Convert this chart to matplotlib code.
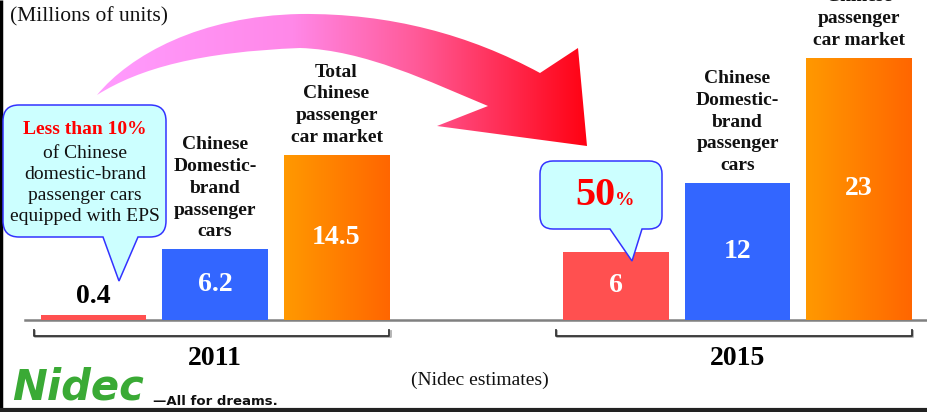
import numpy as np
import matplotlib
matplotlib.use("Agg")
import matplotlib.pyplot as plt
from matplotlib.path import Path
from matplotlib.patches import PathPatch
from matplotlib.colors import LinearSegmentedColormap

# data (millions of units)
years = ["2011", "2015"]
bar_labels = ["", "Chinese\nDomestic-\nbrand\npassenger\ncars",
              "Total\nChinese\npassenger\ncar market"]
values_2011 = [0.4, 6.2, 14.5]
values_2015 = [6, 12, 23]
value_text_2011 = ["0.4", "6.2", "14.5"]
value_text_2015 = ["6", "12", "23"]
eps_share_2011 = "Less than 10%"
eps_share_2015 = "50"

SERIF = "Liberation Serif"
W, H = 928, 412
px_per_unit = 11.4
bar_colors = ["#ff5050", "#3366ff", "#ff8000"]
orange_cmap = LinearSegmentedColormap.from_list("orange", ["#ff9900", "#ff6600"])

fig = plt.figure(figsize=(W / 100, H / 100), dpi=100)
fig.patch.set_facecolor("white")

# main axes: bars in data units
ax = fig.add_axes([0, 0, 1, 1])
ax.axis("off")
xlim = (-0.77, 6.868)
ylim = (-92 / px_per_unit, 320 / px_per_unit)

group_start = [0, 4.3]
width = 0.87
grad = np.linspace(0, 1, 256).reshape(1, -1)

ax.axhline(0, xmin=25 / W, xmax=1, color="#808080", lw=1.8, zorder=1)

for g, (year, vals, vtxt) in enumerate(zip(years, [values_2011, values_2015],
                                            [value_text_2011, value_text_2015])):
    xs = [group_start[g] + i for i in range(3)]
    bars = ax.bar(xs, vals, width=width, color=bar_colors, zorder=2)

    # gradient on the total market bar
    ob = bars[2]
    im = ax.imshow(grad, cmap=orange_cmap, aspect="auto", zorder=2.1,
                   extent=[ob.get_x(), ob.get_x() + ob.get_width(), 0, ob.get_height()])
    im.set_clip_path(ob)

    for x, v, t in zip(xs, vals, vtxt):
        if v < 2:
            ax.text(x, v + 0.55, t, ha="center", va="bottom", fontsize=20,
                    fontweight="bold", family=SERIF, color="black", zorder=3)
        else:
            ax.text(x, v / 2, t, ha="center", va="center", fontsize=20,
                    fontweight="bold", family=SERIF, color="white", zorder=3)

    for x, v, lab in zip(xs, vals, bar_labels):
        if lab:
            ax.text(x, v + 0.8, lab, ha="center", va="bottom", fontsize=14,
                    fontweight="bold", family=SERIF, color="#111111",
                    linespacing=1.36, zorder=3)

    # bracket under each year group
    xl = xs[0] - width / 2 - 0.058
    xr = xs[-1] + width / 2
    yb, yt = -1.4, -0.85
    ax.plot([xl + 0.01, xl + 0.01, xr + 0.01, xr + 0.01],
            [yt - 0.08, yb - 0.08, yb - 0.08, yt - 0.08], color="#b0b0b0", lw=1.3, zorder=1)
    ax.plot([xl, xl, xr, xr], [yt, yb, yb, yt], color="#333333", lw=1.3, zorder=1.5)
    ax.text((xs[0] + xs[-1]) / 2, -3.35, year, ha="center", va="center",
            fontsize=20, fontweight="bold", family=SERIF)

ax.set_xlim(*xlim)
ax.set_ylim(*ylim)

# overlay in pixel coordinates (origin top-left) for the decorations
ov = fig.add_axes([0, 0, 1, 1], facecolor="none")
ov.set_xlim(0, W)
ov.set_ylim(H, 0)
ov.axis("off")

# big curved gradient arrow
M, L, C4, CL = Path.MOVETO, Path.LINETO, Path.CURVE4, Path.CLOSEPOLY
arrow_verts = [(97, 95),
               (130, 55), (200, 16), (300, 14),
               (390, 13), (470, 35), (540, 73),
               (578, 48), (587, 146), (437, 126), (488, 106),
               (430, 82), (365, 50), (300, 48),
               (200, 52), (140, 68), (97, 95),
               (97, 95)]
arrow_codes = [M, C4, C4, C4, C4, C4, C4, L, L, L, L, C4, C4, C4, C4, C4, C4, CL]
arrow = PathPatch(Path(arrow_verts, arrow_codes), facecolor="none", edgecolor="none")
ov.add_patch(arrow)
arrow_cmap = LinearSegmentedColormap.from_list(
    "arrow", [(0.0, "#ff9cff"), (0.4, "#ff88e8"), (0.65, "#ff5a98"), (1.0, "#ff0010")])
aim = ov.imshow(grad, cmap=arrow_cmap, aspect="auto", extent=[95, 590, 150, 10], zorder=2)
aim.set_clip_path(arrow)


def callout_path(x0, y0, x1, y1, r, bl, tip, br):
    Q = Path.CURVE3
    verts = [(x0 + r, y0), (x1 - r, y0), (x1, y0), (x1, y0 + r), (x1, y1 - r),
             (x1, y1), (x1 - r, y1), (br, y1), tip, (bl, y1), (x0 + r, y1),
             (x0, y1), (x0, y1 - r), (x0, y0 + r), (x0, y0), (x0 + r, y0), (x0 + r, y0)]
    codes = [M, L, Q, Q, L, Q, Q, L, L, L, L, Q, Q, L, Q, Q, CL]
    return Path(verts, codes)


for args in [(3, 105, 166, 237, 16, 103, (119, 281), 138),
             (540, 161, 662, 229, 13, 610, (632, 261), 642)]:
    ov.add_patch(PathPatch(callout_path(*args), facecolor="#ccffff",
                           edgecolor="#3333ff", lw=1.1, zorder=3))

ov.text(85, 129, eps_share_2011, ha="center", va="center", fontsize=14,
        fontweight="bold", family=SERIF, color="#ff0000", zorder=4)
ov.text(85, 185, "of Chinese\ndomestic-brand\npassenger cars\nequipped with EPS",
        ha="center", va="center", fontsize=14, family=SERIF, color="#111111",
        linespacing=1.3, zorder=4)
ov.text(615, 205, eps_share_2015, ha="right", va="baseline", fontsize=29,
        fontweight="bold", family=SERIF, color="#ff0000", zorder=4)
ov.text(615, 205, "%", ha="left", va="baseline", fontsize=14,
        fontweight="bold", family=SERIF, color="#ff0000", zorder=4)

ov.text(10, 17, "(Millions of units)", ha="left", va="center", fontsize=15.5,
        family=SERIF, color="#111111")
ov.text(480, 380, "(Nidec estimates)", ha="center", va="center", fontsize=14,
        family=SERIF, color="#111111")

# logo
ov.text(12, 409, "Nidec", ha="left", va="bottom", fontsize=30, fontweight="heavy",
        style="italic", family="DejaVu Sans", color="#3aaa35")
ov.text(153, 405, "\u2014All for dreams.", ha="left", va="baseline", fontsize=9.5,
        fontweight="bold", family="DejaVu Sans", color="#111111")

# frame edges
ov.plot([1, 1], [0, H], color="black", lw=2.5, solid_capstyle="butt")
ov.plot([0, W], [410, 410], color="#222222", lw=3, solid_capstyle="butt")

fig.savefig("out.png", dpi=100)
